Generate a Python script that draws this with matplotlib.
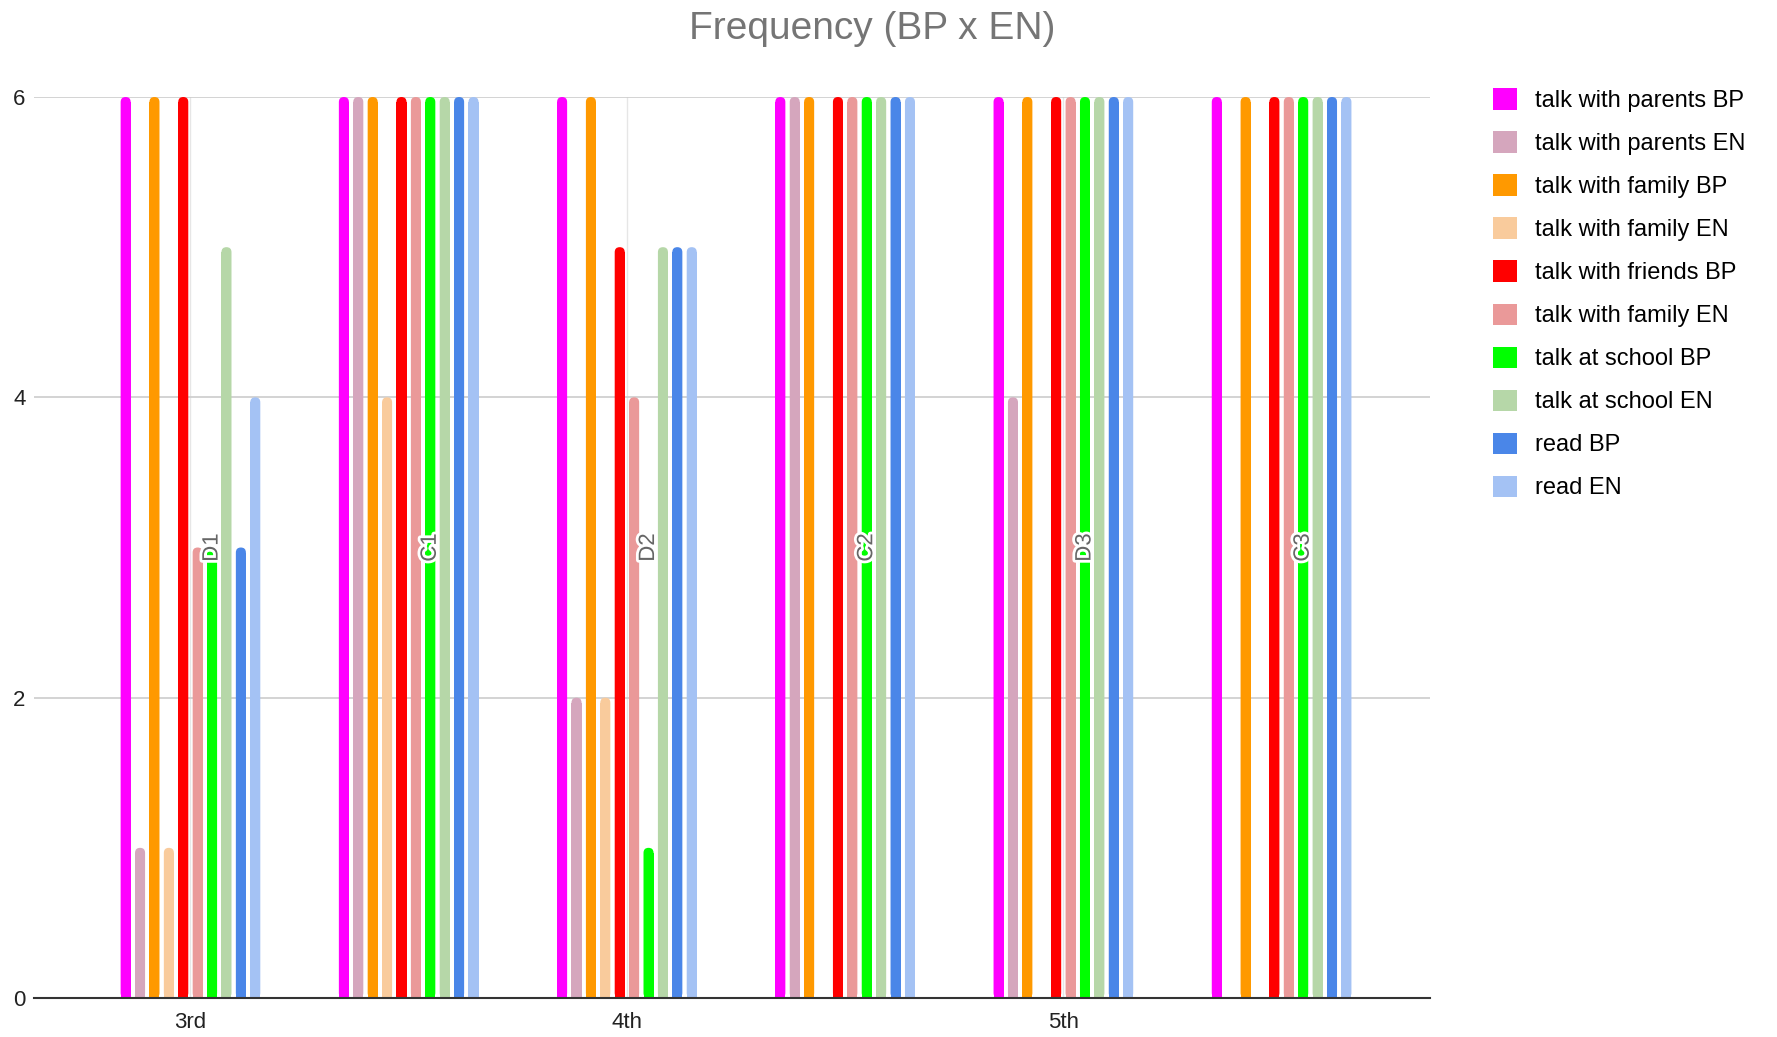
import matplotlib.pyplot as plt
import matplotlib.patheffects as pe
from matplotlib.patches import FancyBboxPatch, Rectangle, Patch
import numpy as np

plt.rcParams['font.family'] = ['Liberation Sans', 'DejaVu Sans']

# 每组的标签（画在绿色柱子上）和横轴刻度
groups = ['D1', 'C1', 'D2', 'C2', 'D3', 'C3']
tick_pos = [0, 2, 4]
tick_labels = ['3rd', '4th', '5th']

series = ['talk with parents BP', 'talk with parents EN', 'talk with family BP',
          'talk with family EN', 'talk with friends BP', 'talk with family EN',
          'talk at school BP', 'talk at school EN', 'read BP', 'read EN']
colors = ['#ff00ff', '#d5a6bd', '#ff9900', '#f9cb9c', '#ff0000',
          '#ea9999', '#00ff00', '#b6d7a8', '#4a86e8', '#a4c2f4']

# 每个系列在 6 组中的频次
parents_bp = [6, 6, 6, 6, 6, 6]
parents_en = [1, 6, 2, 6, 4, 0]
family_bp = [6, 6, 6, 6, 6, 6]
family_en = [1, 4, 2, 0, 0, 0]
friends_bp = [6, 6, 5, 6, 6, 6]
friends_en = [3, 6, 4, 6, 6, 6]
school_bp = [3, 6, 1, 6, 6, 6]
school_en = [5, 6, 5, 6, 6, 6]
read_bp = [3, 6, 5, 6, 6, 6]
read_en = [4, 6, 5, 6, 6, 6]
values = [parents_bp, parents_en, family_bp, family_en, friends_bp,
          friends_en, school_bp, school_en, read_bp, read_en]

W, H = 1777, 1037
left, right, top, bottom = 34, 1430, 97, 998
fig = plt.figure(figsize=(W / 100, H / 100), dpi=100)
ax = fig.add_axes([left / W, 1 - bottom / H, (right - left) / W, (bottom - top) / H])

xmin, xmax, ymax = -0.717, 5.68, 6
ax.set_xlim(xmin, xmax)
ax.set_ylim(0, ymax)

x = np.arange(len(groups))
slot = 0.066
bar_width = 0.046
# 圆角半径：横向取半个柱宽，纵向按像素比例换算
rx = bar_width / 2
ry = rx * (ymax / (bottom - top)) / ((xmax - xmin) / (right - left))

for i, (vals, c) in enumerate(zip(values, colors)):
    bars = ax.bar(x + (i - 4.5) * slot, vals, width=bar_width, color=c, zorder=3)
    for b in bars:
        b.set_visible(False)
        h = b.get_height()
        if h <= 0:
            continue
        x0 = b.get_x()
        ax.add_patch(FancyBboxPatch((x0, 0), bar_width, h,
                                    boxstyle=f'round,pad=0,rounding_size={rx}',
                                    mutation_aspect=ry / rx, fc=c, ec='none', zorder=3))
        ax.add_patch(Rectangle((x0, 0), bar_width, max(h - ry, 0),
                               fc=c, ec='none', zorder=3))

# 组名，竖排写在绿色柱子上
for g, lab in zip(x, groups):
    ax.text(g + (6 - 4.5) * slot, 3, lab, rotation=90, ha='center', va='center',
            fontsize=16, color='#666666', zorder=5,
            path_effects=[pe.withStroke(linewidth=4, foreground='white')])

ax.set_yticks([0, 2, 4, 6])
ax.set_xticks(tick_pos)
ax.set_xticklabels(tick_labels)
ax.tick_params(axis='both', length=0, labelsize=16, colors='#222222')
ax.tick_params(axis='x', pad=10)
ax.tick_params(axis='y', pad=6)
ax.grid(axis='y', color='#cccccc', linewidth=1.2, zorder=0)
ax.grid(axis='x', color='#e6e6e6', linewidth=1, zorder=0)
for s in ['top', 'right', 'left']:
    ax.spines[s].set_visible(False)
ax.spines['bottom'].set_color('#333333')
ax.spines['bottom'].set_linewidth(1.5)
ax.spines['bottom'].set_zorder(4)

fig.text(872 / W, 1 - 29 / H, 'Frequency (BP x EN)', ha='center', va='center',
         fontsize=28, color='#757575')

handles = [Patch(facecolor=c, edgecolor='none') for c in colors]
fig.legend(handles, series, loc='upper left', bbox_to_anchor=(1484 / W, 1 - 79 / H),
           frameon=False, fontsize=17, handlelength=1.0, handleheight=1.0,
           handletextpad=0.75, labelspacing=0.82, borderaxespad=0)

plt.savefig('out.png')
